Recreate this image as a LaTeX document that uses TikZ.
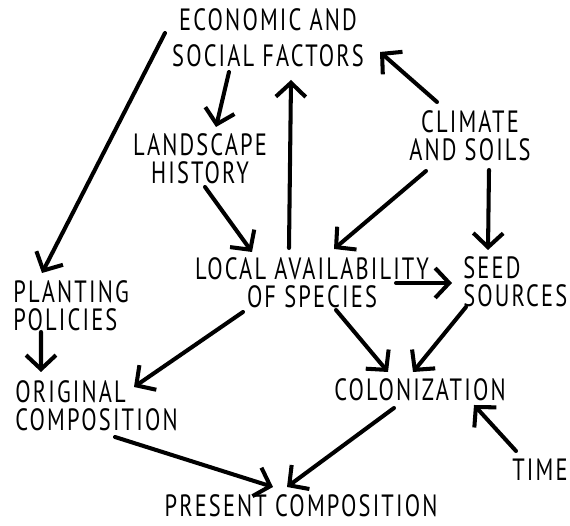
\documentclass[tikz,border=0pt]{standalone}
\usepackage{fontspec}
\usepackage{tikz}
\usetikzlibrary{arrows.meta,positioning,calc}
\newfontfamily\letterfont[FakeStretch=0.73,LetterSpace=7]{PT Sans}
\tikzset{
  % lettering of the factors
  lbl/.style={
    inner sep=0pt,
    align=center,
    font=\letterfont\fontsize{17.5}{16}\selectfont
  },
  % left aligned factors
  lbll/.style={lbl, align=left, anchor=west},
  % arrows
  arr/.style={-{Straight Barb[length=8pt,width=17pt]}, line width=2.3pt, line cap=round, black},
}
\begin{document}
\begin{tikzpicture}
    \useasboundingbox (0,0) rectangle (11.4,10.52);

    % factors
    \node[lbl] (econ) at (5.36, 9.76) {ECONOMIC AND\\[4.4pt]SOCIAL FACTORS};
    \node[lbl] (landscape) at (4.0, 7.34) {LANDSCAPE\\HISTORY};
    \node[lbl] (climate) at (9.4, 7.8) {CLIMATE\\AND SOILS};
    \node[lbl] (local) at (6.24, 4.86) {LOCAL AVAILABILITY\\OF SPECIES};
    \node[lbll] (seed) at (9.26, 4.88) {SEED\\SOURCES};
    \node[lbll] (planting) at (0.26, 4.40) {PLANTING\\POLICIES};
    \node[lbll] (original) at (0.30, 2.40) {ORIGINAL\\COMPOSITION};
    \node[lbl] (colonization) at (8.4, 2.72) {COLONIZATION};
    \node[lbl] (time) at (10.8, 1.12) {TIME};
    \node[lbl] (present) at (6.02, 0.40) {PRESENT COMPOSITION};

    % influences
    \draw[arr] ([shift={(-2.06,0.10)}]econ.center) -- ([shift={(0.58,0.66)}]planting.west);
    \draw[arr] ([shift={(-0.78,-0.68)}]econ.center) -- ([shift={(0.32,0.64)}]landscape.center);
    \draw[arr] ([shift={(-0.46,0.70)}]local.center) -- ([shift={(0.46,-0.84)}]econ.center);
    \draw[arr] ([shift={(-0.66,0.68)}]climate.center) -- ([shift={(2.24,-0.28)}]econ.center);
    \draw[arr] ([shift={(0.10,-0.56)}]landscape.center) -- ([shift={(-1.20,0.62)}]local.center);
    \draw[arr] ([shift={(-0.88,-0.70)}]climate.center) -- ([shift={(0.44,0.68)}]local.center);
    \draw[arr] ([shift={(0.38,-0.68)}]climate.center) -- ([shift={(0.50,0.64)}]seed.west);
    \draw[arr] ([shift={(1.68,0)}]local.center) -- ([shift={(-0.22,-0.02)}]seed.west);
    \draw[arr] ([shift={(-1.38,-0.58)}]local.center) -- ([shift={(2.38,0.38)}]original.west);
    \draw[arr] ([shift={(0.48,-0.54)}]local.center) -- ([shift={(-0.64,0.36)}]colonization.center);
    \draw[arr] ([shift={(0.06,-0.50)}]seed.west) -- ([shift={(-0.14,0.36)}]colonization.center);
    \draw[arr] ([shift={(0.56,-0.52)}]planting.west) -- ([shift={(0.52,0.68)}]original.west);
    \draw[arr] ([shift={(2.00,-0.62)}]original.west) -- ([shift={(-0.56,0.38)}]present.center);
    \draw[arr] ([shift={(-0.52,-0.36)}]colonization.center) -- ([shift={(-0.28,0.38)}]present.center);
    \draw[arr] ([shift={(-0.48,0.38)}]time.center) -- ([shift={(1.08,-0.30)}]colonization.center);
\end{tikzpicture}
\end{document}
